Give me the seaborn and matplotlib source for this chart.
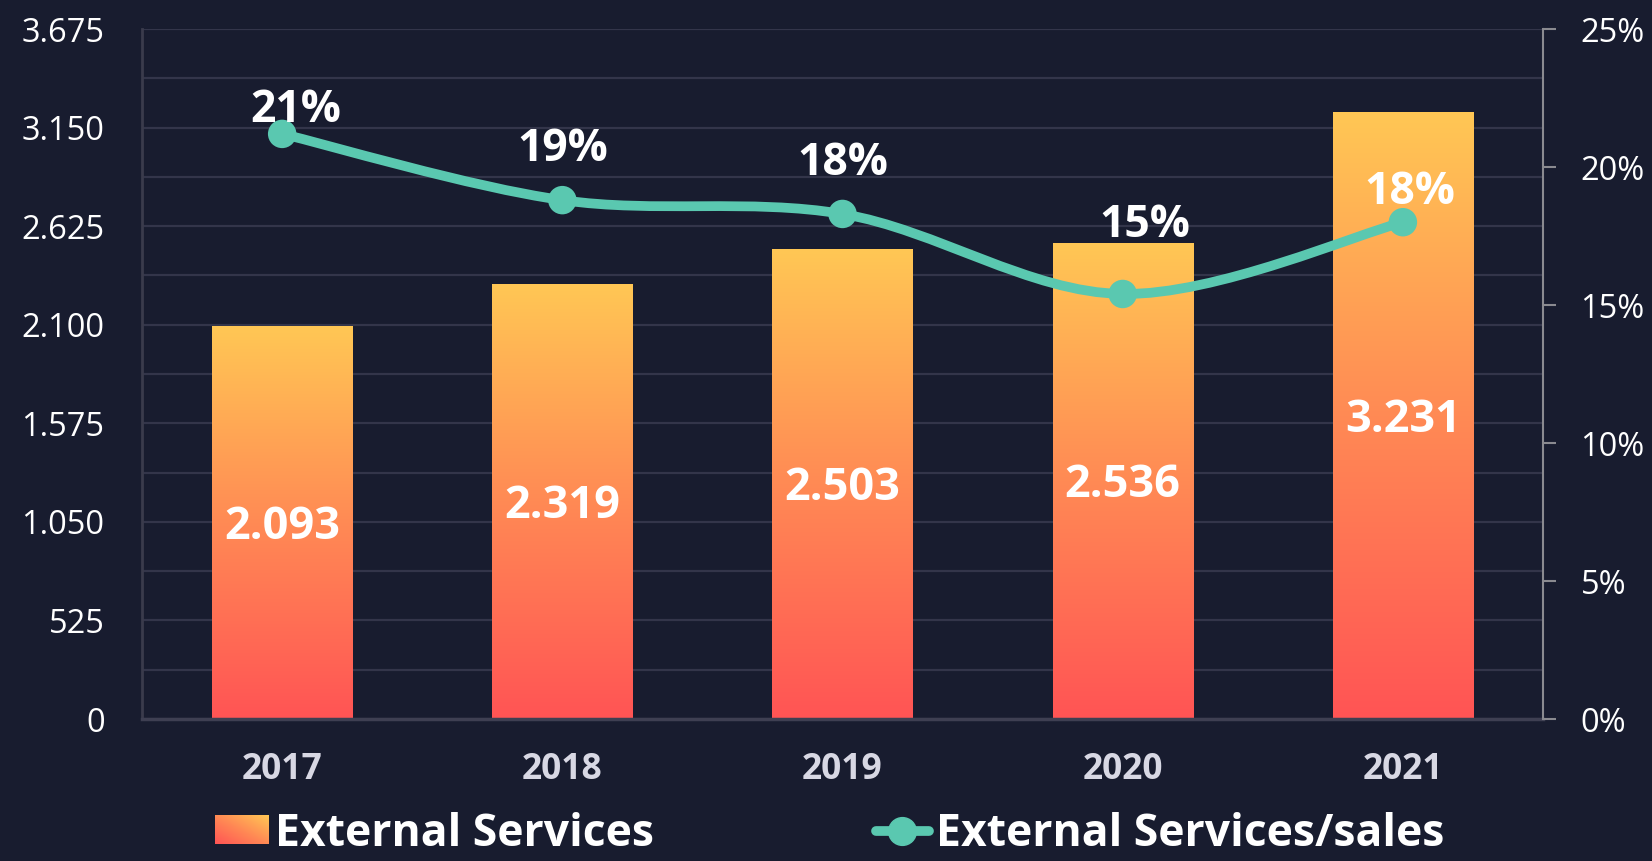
import numpy as np
import pandas as pd
import matplotlib
matplotlib.use('Agg')
import matplotlib.pyplot as plt
import seaborn as sns
from matplotlib.path import Path
from matplotlib.patches import PathPatch
from matplotlib.lines import Line2D
from matplotlib.patches import Rectangle
from matplotlib.legend_handler import HandlerBase
from matplotlib.image import BboxImage
from matplotlib.transforms import Bbox, TransformedBbox
from matplotlib.colors import LinearSegmentedColormap
from matplotlib.ticker import FuncFormatter, MultipleLocator

# --- Data ---
years = ['2017', '2018', '2019', '2020', '2021']
ext_services = [2093, 2319, 2503, 2536, 3231]
ext_ratio = [21.2, 18.8, 18.3, 15.4, 18.0]
ratio_labels = ['21%', '19%', '18%', '15%', '18%']
bar_labels = ['2.093', '2.319', '2.503', '2.536', '3.231']

# label nudges (points) for the percentage labels
label_offsets = [(10, 16.5), (0, 36.5), (0, 36.5), (16, 49), (5, 21.5)]

# --- Styling ---
bg = '#181c2f'
grid_col = '#33354a'
teal = '#5ac8b0'
grad_cmap = LinearSegmentedColormap.from_list('bar', ['#ff5454', '#ff8a55', '#ffc754'])

sns.set_theme(style='dark')
plt.rcParams['font.family'] = ['Open Sans', 'Lato', 'DejaVu Sans']
plt.rcParams['figure.facecolor'] = bg
plt.rcParams['axes.facecolor'] = bg

df = pd.DataFrame({'year': years, 'value': ext_services, 'ratio': ext_ratio})

fig = plt.figure(figsize=(16.52, 8.61), dpi=100)
ax = fig.add_axes([0.086, 0.1649, 0.848, 0.8014])
ax.set_facecolor(bg)

sns.barplot(data=df, x='year', y='value', width=0.5, color='#ff9955', ax=ax, zorder=2)

# vertical gradient inside each bar
grad = np.linspace(0, 1, 256).reshape(-1, 1)
for patch in ax.patches:
    x0, y0 = patch.get_x(), patch.get_y()
    w, h = patch.get_width(), patch.get_height()
    im = ax.imshow(grad, extent=(x0, x0 + w, y0, y0 + h), origin='lower',
                   cmap=grad_cmap, aspect='auto', zorder=2)
    im.set_clip_path(patch)
    patch.set_facecolor('none')
    patch.set_edgecolor('none')

ax.set_xlim(-0.5, 4.5)
ax.set_ylim(0, 3675)
ax.yaxis.set_major_locator(MultipleLocator(525))
ax.yaxis.set_minor_locator(MultipleLocator(262.5))
ax.yaxis.set_major_formatter(FuncFormatter(lambda v, p: f'{int(v):,}'.replace(',', '.')))
ax.grid(True, which='both', axis='y', color=grid_col, lw=1.6, zorder=0)
ax.grid(False, axis='x')
ax.set_axisbelow(True)
ax.tick_params(axis='y', which='both', length=0, labelsize=23.5, labelcolor='white', pad=27)
ax.tick_params(axis='x', length=0, labelsize=25.5, labelcolor='#d8d8e4', pad=24)
for lbl in ax.get_xticklabels():
    lbl.set_fontweight('bold')
ax.set_xlabel('')
ax.set_ylabel('')
for side in ['top', 'right']:
    ax.spines[side].set_visible(False)
ax.spines['left'].set_color('#3a3b4c')
ax.spines['left'].set_linewidth(2)
ax.spines['bottom'].set_color('#3e3f52')
ax.spines['bottom'].set_linewidth(2.5)

for i, (v, txt) in enumerate(zip(ext_services, bar_labels)):
    ax.annotate(txt, (i, v / 2), xytext=(0, -3.5), textcoords='offset points',
                ha='center', va='center', color='white',
                fontsize=32.5, fontweight='bold', zorder=4)

# --- Ratio line on right axis ---
ax2 = ax.twinx()
ax2.set_ylim(0, 25)
ax2.set_xlim(-0.5, 4.5)
ax2.yaxis.set_major_locator(MultipleLocator(5))
ax2.yaxis.set_major_formatter(FuncFormatter(lambda v, p: f'{int(v)}%'))
ax2.tick_params(axis='y', length=9, width=1.5, color='#8a8a90', labelsize=23.5,
                labelcolor='white', pad=18)
ax2.grid(False)
for side in ['top', 'left', 'bottom']:
    ax2.spines[side].set_visible(False)
ax2.spines['right'].set_color('#8a8a90')
ax2.spines['right'].set_linewidth(1.5)

# smooth curve through the points (cardinal spline as bezier segments)
pts = np.column_stack([np.arange(len(ext_ratio)), ext_ratio]).astype(float)
ext = np.vstack([pts[0], pts, pts[-1]])
verts = [tuple(pts[0])]
codes = [Path.MOVETO]
for i in range(len(pts) - 1):
    p0, p1, p2, p3 = ext[i], ext[i + 1], ext[i + 2], ext[i + 3]
    c1 = p1 + (p2 - p0) / 6
    c2 = p2 - (p3 - p1) / 6
    verts += [tuple(c1), tuple(c2), tuple(p2)]
    codes += [Path.CURVE4] * 3
ax2.add_patch(PathPatch(Path(verts, codes), facecolor='none', edgecolor=teal,
                        lw=7, capstyle='round', zorder=3))
sns.scatterplot(data=df, x=np.arange(len(years)), y='ratio', s=420, color=teal,
                edgecolor='none', ax=ax2, zorder=4, legend=False)
ax2.set_ylabel('')

for i, (r, txt) in enumerate(zip(ext_ratio, ratio_labels)):
    ax2.annotate(txt, (i, r), xytext=label_offsets[i], textcoords='offset points',
                 ha='center', va='center', color='white', fontsize=32,
                 fontweight='bold', zorder=5)


# --- Legend with gradient swatch ---
class GradientHandler(HandlerBase):
    def create_artists(self, legend, orig_handle, xdescent, ydescent,
                       width, height, fontsize, trans):
        bb = TransformedBbox(Bbox.from_bounds(-xdescent, -ydescent, width, height), trans)
        img = BboxImage(bb, cmap=grad_cmap, interpolation='bilinear')
        xx, yy = np.meshgrid(np.linspace(0, 1, 64), np.linspace(0, 1, 64))
        img.set_data(((xx + yy) / 2)[::-1])
        return [img]


bar_handle = Rectangle((0, 0), 1, 1)
line_handle = Line2D([], [], color=teal, lw=7, marker='o', markersize=20)
fig.legend([bar_handle, line_handle], ['External Services', 'External Services/sales'],
           handler_map={Rectangle: GradientHandler()},
           loc='center', bbox_to_anchor=(0.502, 0.031), ncol=2, frameon=False,
           handlelength=1.2, handleheight=0.6, handletextpad=0.15,
           columnspacing=5.0, labelcolor='white', prop={'weight': 'bold', 'size': 32})

fig.savefig('out.png', dpi=100, facecolor=bg)
